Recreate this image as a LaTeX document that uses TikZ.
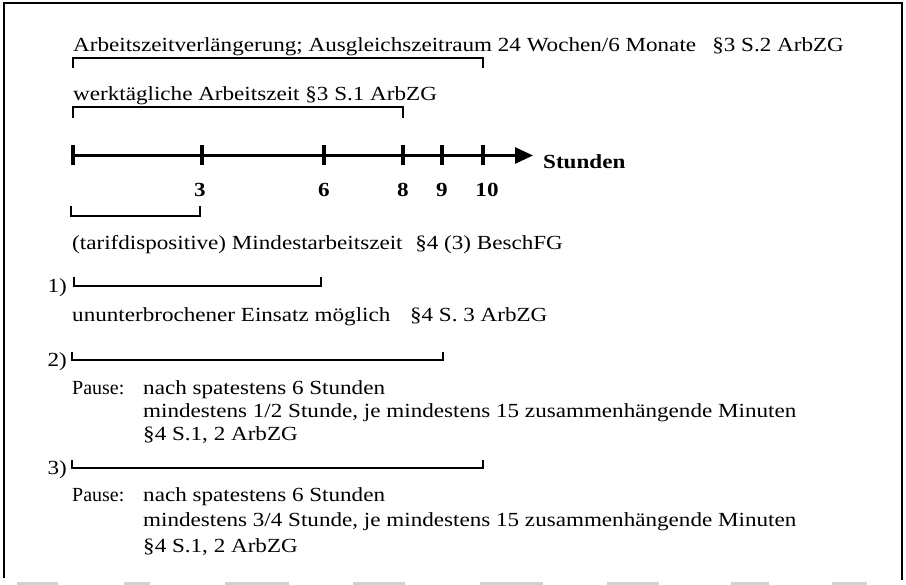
\documentclass[tikz,border=0pt]{standalone}
\usepackage{graphicx}
\usepackage{fontspec}
\setmainfont{Liberation Serif}
\usetikzlibrary{arrows.meta}
\newcommand\wtxt[1]{\scalebox{1.155}[1]{#1}}
\begin{document}
\begin{tikzpicture}[x=1pt,y=-1pt,
  txt/.style={anchor=base west,inner sep=0pt,font=\fontsize{20}{24}\selectfont},
  num/.style={anchor=base,inner sep=0pt,font=\fontsize{20}{24}\selectfont\bfseries},
  lbl/.style={anchor=base east,inner sep=0pt,font=\fontsize{20}{24}\selectfont},
  brk/.style={line width=1.7pt},
  axisline/.style={line width=2.8pt},
  tickline/.style={line width=3.2pt},
  scanedge/.style={line width=3pt,black!18}]
\useasboundingbox (0,0) rectangle (906,585);
% frame
\draw[line width=1.4pt] (4,578) -- (4,3) -- (902,3) -- (902,580);
\foreach \a/\b in {17/58,124/150,225/289,353/405,480/543,607/659,731/769,832/867}
  \draw[scanedge] (\a,583.5) -- (\b,583.5);
% top brackets
\node[txt] (t1) at (73,52) {\wtxt{Arbeitszeitverlängerung; Ausgleichszeitraum 24 Wochen/6 Monate\hspace{0.45em} §3 S.2 ArbZG}};
\coordinate (b1l) at (73,58); \coordinate (b1r) at (483,58);
\draw[brk] (b1l) ++(0,10) -- (b1l) -- (b1r) -- ++(0,10);
\node[txt] (t2) at (73,101) {\wtxt{werktägliche Arbeitszeit §3 S.1 ArbZG}};
\coordinate (b2l) at (73,107); \coordinate (b2r) at (403,107);
\draw[brk] (b2l) ++(0,11) -- (b2l) -- (b2r) -- ++(0,11);
% axis
\coordinate (a0) at (73,155.5);
\coordinate (a3) at (202,155.5);
\coordinate (a6) at (324,155.5);
\coordinate (a8) at (403,155.5);
\coordinate (a9) at (442,155.5);
\coordinate (a10) at (483,155.5);
\coordinate (tip) at (533,155.5);
\draw[axisline,-{Triangle[length=18pt,width=16pt]}] (a0) -- (tip);
\foreach \p in {a0,a3,a6,a8,a9,a10}
  \draw[tickline] (\p) ++(0,-10) -- ++(0,20);
\node[anchor=base west,inner sep=0pt,font=\fontsize{20}{24}\selectfont\bfseries] (st) at (543,169) {\wtxt{Stunden}};
\node[num] (n3) at (200,197) {\wtxt{3}};
\node[num] (n6) at (324,197) {\wtxt{6}};
\node[num] (n8) at (403,197) {\wtxt{8}};
\node[num] (n9) at (442,197) {\wtxt{9}};
\node[num] (n10) at (487,197) {\wtxt{10}};
% bracket 0-3
\coordinate (b3l) at (71,216); \coordinate (b3r) at (200,216);
\draw[brk] (b3l) ++(0,-10) -- (b3l) -- (b3r) -- ++(0,-10);
\node[txt] (t3) at (72,250) {\wtxt{(tarifdispositive) Mindestarbeitszeit\hspace{0.3em} §4 (3) BeschFG}};
% 1)
\coordinate (c1l) at (74,286); \coordinate (c1r) at (321,286);
\draw[brk] (c1l) ++(0,-9) -- (c1l) -- (c1r) -- ++(0,-9);
\node[lbl] (l1) at (67,293) {\wtxt{1)}};
\node[txt] (t4) at (72,322) {\wtxt{ununterbrochener Einsatz möglich\hspace{0.6em} §4 S. 3 ArbZG}};
% 2)
\coordinate (c2l) at (72,360); \coordinate (c2r) at (443,360);
\draw[brk] (c2l) ++(0,-8) -- (c2l) -- (c2r) -- ++(0,-8);
\node[lbl] (l2) at (67,367) {\wtxt{2)}};
\node[txt] (p1) at (72,395) {Pause:};
\node[txt] (p1a) at (143,395) {\wtxt{nach spatestens 6 Stunden}};
\node[txt] (p1b) at (143,418) {\wtxt{mindestens 1/2 Stunde, je mindestens 15 zusammenhängende Minuten}};
\node[txt] (p1c) at (143,441) {\wtxt{§4 S.1, 2 ArbZG}};
% 3)
\coordinate (c3l) at (72,468); \coordinate (c3r) at (483,468);
\draw[brk] (c3l) ++(0,-8) -- (c3l) -- (c3r) -- ++(0,-8);
\node[lbl] (l3) at (67,475) {\wtxt{3)}};
\node[txt] (p2) at (72,502) {Pause:};
\node[txt] (p2a) at (143,502) {\wtxt{nach spatestens 6 Stunden}};
\node[txt] (p2b) at (143,526) {\wtxt{mindestens 3/4 Stunde, je mindestens 15 zusammenhängende Minuten}};
\node[txt] (p2c) at (143,552) {\wtxt{§4 S.1, 2 ArbZG}};
\end{tikzpicture}
\end{document}
